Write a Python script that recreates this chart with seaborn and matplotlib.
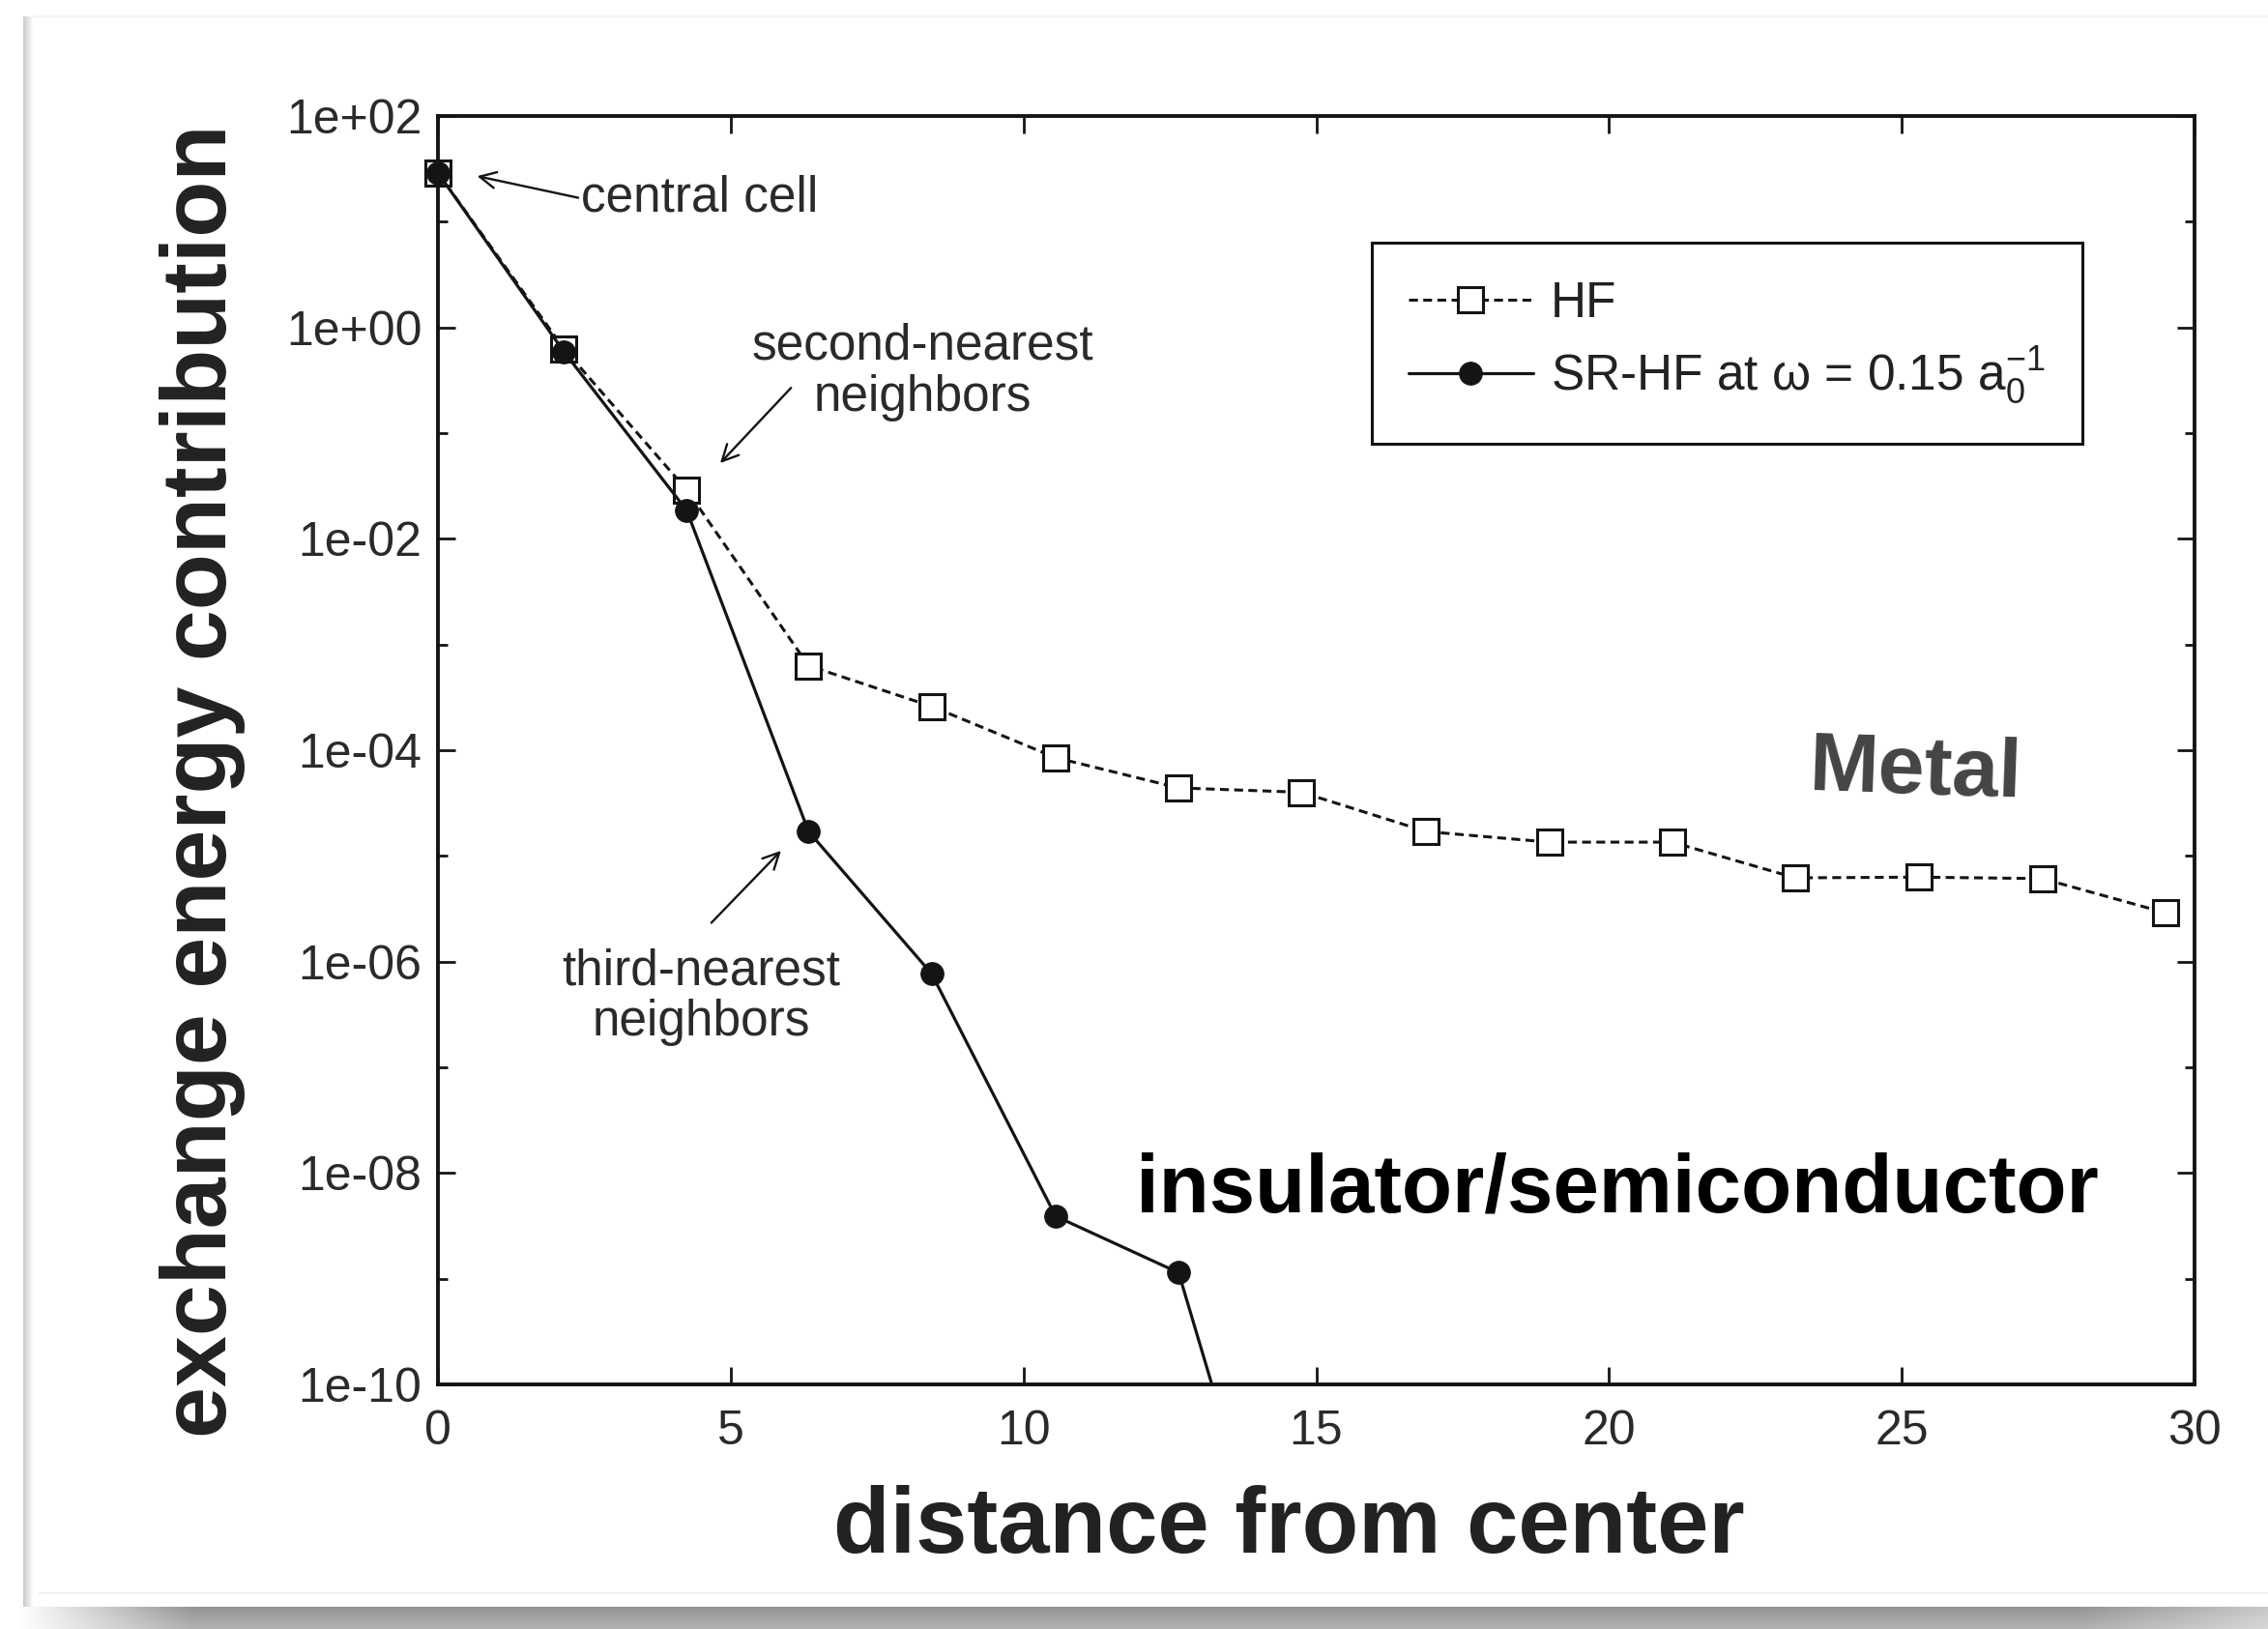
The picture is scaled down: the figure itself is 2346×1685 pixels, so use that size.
import numpy as np
import pandas as pd
import matplotlib
matplotlib.use("Agg")
import matplotlib.pyplot as plt
import seaborn as sns
from matplotlib.patches import Rectangle
from matplotlib.ticker import FixedLocator, FuncFormatter

# Exchange energy contribution per shell of neighbouring cells
hf_distance = [0.0, 2.15, 4.25, 6.33, 8.43, 10.55, 12.65, 14.75,
               16.88, 18.98, 21.08, 23.18, 25.30, 27.40, 29.50]
hf_energy = [29.0, 0.63, 0.029, 6.3e-4, 2.6e-4, 8.5e-5, 4.4e-5, 4.0e-5,
             1.7e-5, 1.35e-5, 1.35e-5, 6.2e-6, 6.3e-6, 6.1e-6, 2.9e-6]

srhf_distance = [0.0, 2.15, 4.25, 6.33, 8.43, 10.55, 12.65, 14.75]
srhf_energy = [29.0, 0.59, 0.0185, 1.7e-5, 7.7e-7, 3.9e-9, 1.14e-9, 1.4e-13]

x_ticks = [0, 5, 10, 15, 20, 25, 30]
y_major = [1e2, 1e0, 1e-2, 1e-4, 1e-6, 1e-8, 1e-10]
y_minor = [1e1, 1e-1, 1e-3, 1e-5, 1e-7, 1e-9]

hf_label = "HF"
srhf_label = "SR-HF at \u03c9 = 0.15 a$_0^{-1}$"

sns.set_theme(style="ticks")
plt.rcParams["font.family"] = ["Liberation Sans", "DejaVu Sans"]
plt.rcParams["mathtext.fontset"] = "custom"
plt.rcParams["mathtext.rm"] = "Liberation Sans"
plt.rcParams["mathtext.it"] = "Liberation Sans"

W, H = 2346, 1685
fig = plt.figure(figsize=(W / 100, H / 100), dpi=100)
fig.patch.set_facecolor("white")

# card background with a soft drop shadow
bg = fig.add_axes([0, 0, 1, 1], zorder=-10)
bg.axis("off")
img = np.ones((H, W, 3))
cols = np.arange(W)
fade = np.clip((cols - 20) / 180.0, 0, 1) * np.clip(1 - (cols - 2150) / 400.0, 0.45, 1)
for r in range(1662, H):
    t = (r - 1662) / (H - 1662)
    dark = 0.42 - 0.12 * t
    img[r, :, :] = (1 - dark * fade)[:, None]
for c in range(24, 34):
    t = (c - 24) / 10.0
    img[18:1662, c, :] = np.minimum(img[18:1662, c, :], 0.80 + 0.2 * t)
img[17:19, 34:, :] = 0.96
img[1647:1649, 40:, :] = 0.94
bg.imshow(img, aspect="auto", extent=[0, 1, 0, 1], interpolation="bilinear")

left, right, top, bottom = 453, 2270, 120, 1432
ax = fig.add_axes([left / W, 1 - bottom / H, (right - left) / W, (bottom - top) / H])
ax.set_facecolor("white")

ink = "#141414"
sns.lineplot(x=hf_distance, y=hf_energy, ax=ax, color=ink, linestyle=(0, (3, 1.8)),
             linewidth=2.2, marker="s", markersize=19, markerfacecolor="white",
             markeredgecolor=ink, markeredgewidth=2.2, label=hf_label)
sns.lineplot(x=srhf_distance, y=srhf_energy, ax=ax, color=ink, linestyle="-",
             linewidth=2.3, marker="o", markersize=17, markerfacecolor=ink,
             markeredgecolor=ink, label=srhf_label)

# clip only at the bottom/top so the markers at x = 0 stay whole
clip_rect = Rectangle((-0.03, 0), 1.06, 1.0, transform=ax.transAxes,
                      facecolor="none", edgecolor="none")
ax.add_patch(clip_rect)
for ln in ax.get_lines():
    ln.set_clip_path(clip_rect)

ax.set_yscale("log")
ax.set_xlim(0, 30)
ax.set_ylim(1e-10, 1e2)
ax.xaxis.set_major_locator(FixedLocator(x_ticks))
ax.yaxis.set_major_locator(FixedLocator(y_major))
ax.yaxis.set_minor_locator(FixedLocator(y_minor))
ax.yaxis.set_major_formatter(FuncFormatter(lambda v, p: f"{v:.0e}"))
ax.yaxis.set_minor_formatter(FuncFormatter(lambda v, p: ""))
ax.xaxis.set_minor_locator(FixedLocator([]))

for s in ax.spines.values():
    s.set_visible(True)
    s.set_linewidth(2.8)
    s.set_color(ink)
ax.tick_params(which="both", direction="in", top=True, right=True,
               color=ink, width=2.0)
ax.tick_params(which="major", length=13, labelsize=36, labelcolor="#2a2a2a")
ax.tick_params(which="minor", length=7)
ax.tick_params(axis="x", which="major", pad=19)
ax.tick_params(axis="y", which="major", pad=12)

ax.set_xlabel("distance from center", fontsize=69, fontweight="bold", color="#222222")
ax.xaxis.set_label_coords((1333 - left) / (right - left), (bottom - 1581) / (bottom - top))
ax.xaxis.label.set_va("center")
ax.set_ylabel("exchange energy contribution", fontsize=68.5, fontweight="bold", color="#222222")
ax.yaxis.set_label_coords((210 - left) / (right - left), (bottom - 808) / (bottom - top))
ax.yaxis.label.set_va("center")
ax.yaxis.label.set_ha("center")

leg = ax.legend(loc="upper right", bbox_to_anchor=(0.936, 0.900), borderaxespad=0,
                fontsize=37, frameon=True, fancybox=False, handlelength=2.5,
                handletextpad=0.35, labelspacing=0.35, borderpad=0.75)
leg.get_frame().set_edgecolor(ink)
leg.get_frame().set_linewidth(2.2)
leg.get_frame().set_facecolor("white")
leg.get_frame().set_alpha(1)
for t in leg.get_texts():
    t.set_color("#222222")

arrow = dict(arrowstyle="->", color=ink, lw=1.7, mutation_scale=30, shrinkA=0, shrinkB=0)
ann_kw = dict(fontsize=37, color="#2a2a2a")

ax.annotate("central cell", xy=(0.67, 27), xytext=(2.45, 16.6), ha="left", va="center",
            arrowprops=dict(arrow, relpos=(0, 0.5)), **ann_kw)
ax.text(8.28, 0.38, "second-nearest\nneighbors", ha="center", va="center",
        multialignment="center", linespacing=1.1, **ann_kw)
ax.annotate("", xy=(4.82, 0.052), xytext=(6.03, 0.268), arrowprops=arrow)
ax.text(4.50, 4.6e-7, "third-nearest\nneighbors", ha="center", va="center",
        multialignment="center", linespacing=1.1, **ann_kw)
ax.annotate("", xy=(5.86, 1.12e-5), xytext=(4.67, 2.33e-6), arrowprops=arrow)

fig.text(1981 / W, 1 - 799 / H, "Metal", fontsize=62, fontweight="bold", color="#444444",
         ha="center", va="center", rotation=-2)
fig.text(1673 / W, 1 - 1231 / H, "insulator/semiconductor", fontsize=61.5,
         fontweight="bold", color="black", ha="center", va="center")

fig.savefig("out.png", dpi=100, facecolor="white")
